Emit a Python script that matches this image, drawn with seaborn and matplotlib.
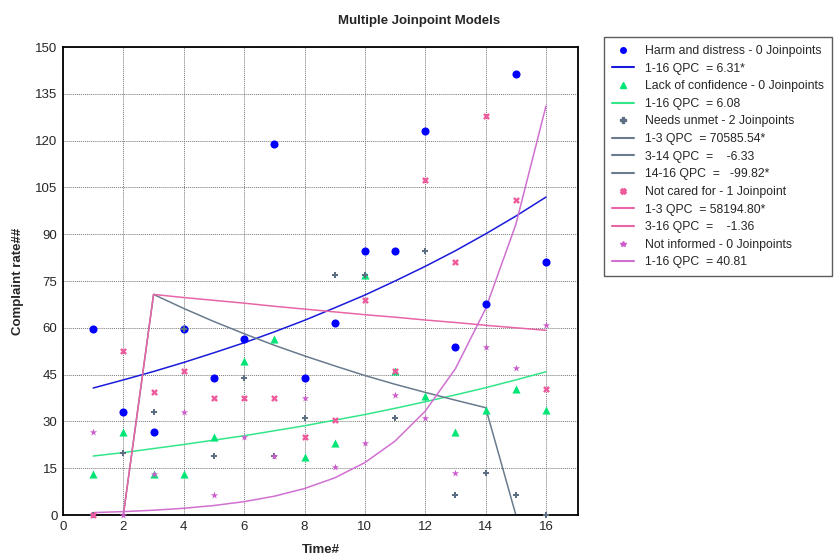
"""Multiple Joinpoint Models - complaint rates over time with joinpoint fits."""

import matplotlib

matplotlib.use("Agg")

import matplotlib.pyplot as plt  # noqa: E402
import numpy as np  # noqa: E402
import pandas as pd  # noqa: E402
import seaborn as sns  # noqa: E402
from matplotlib.lines import Line2D  # noqa: E402

# --- Data -------------------------------------------------------------------

time = list(range(1, 17))

harm = [59.5, 33, 26.5, 59.5, 44, 56.5, 119, 44, 61.5, 84.5, 84.5, 123, 54, 67.5, 141.5, 81]
harm_fit = [40.7, 43.3, 46.0, 48.9, 52.0, 55.2, 58.7, 62.4, 66.4, 70.5, 75.0, 79.7, 84.7,
            90.1, 95.8, 101.9]

confidence = [13, 26.5, 13, 13, 25, 49.5, 56.5, 18.5, 23, 77, 46, 38, 26.5, 33.5, 40.5, 33.5]
confidence_fit = [18.9, 20.0, 21.3, 22.6, 24.0, 25.4, 27.0, 28.6, 30.4, 32.2, 34.2, 36.3,
                  38.5, 40.8, 43.3, 45.9]

needs = [0, 20, 33, 59.5, 19, 44, 19, 31, 77, 77, 31, 84.5, 6.5, 13.5, 6.5, 0]
needs_fit = [0.0, 0.1, 70.7, 66.2, 62.0, 58.1, 54.4, 51.0, 47.8, 44.7, 41.9, 39.3, 36.8,
             34.4, 0.06, 0.0]

cared = [0, 52.5, 39.5, 46, 37.5, 37.5, 37.5, 25, 30.5, 69, 46, 107.5, 81, 128, 101, 40.5]
cared_fit = [0.0, 0.1, 70.7, 69.7, 68.8, 67.9, 66.9, 66.0, 65.1, 64.2, 63.4, 62.5, 61.7,
             60.8, 60.0, 59.2]

informed = [26.5, 0, 13, 33, 6.5, 25, 19, 37.5, 15.5, 23, 38.5, 31, 13.5, 54, 47, 61]
informed_fit = [0.77, 1.09, 1.53, 2.16, 3.04, 4.28, 6.02, 8.48, 11.9, 16.8, 23.7, 33.3,
                46.9, 66.1, 93.1, 131.1]

# (label, points, fit, point colour, line colour, marker, marker size, fit labels)
series = [
    ("Harm and distress - 0 Joinpoints", harm, harm_fit, "#0000ff", "#1a1adb", "o", 34,
     ["1-16 QPC  = 6.31*"]),
    ("Lack of confidence - 0 Joinpoints", confidence, confidence_fit, "#00e676", "#33e68a",
     "^", 34, ["1-16 QPC  = 6.08"]),
    ("Needs unmet - 2 Joinpoints", needs, needs_fit, "#5c6f82", "#6a7b8e", "P", 18,
     ["1-3 QPC  = 70585.54*", "3-14 QPC  =    -6.33", "14-16 QPC  =   -99.82*"]),
    ("Not cared for - 1 Joinpoint", cared, cared_fit, "#ee5a9c", "#e865a8", "X", 24,
     ["1-3 QPC  = 58194.80*", "3-16 QPC  =    -1.36"]),
    ("Not informed - 0 Joinpoints", informed, informed_fit, "#cc5ccc", "#d070d0", "*", 30,
     ["1-16 QPC  = 40.81"]),
]

# --- Plot ---------------------------------------------------------------------

sns.set_style("white")
plt.rcParams["font.family"] = ["Liberation Sans", "DejaVu Sans"]

fig = plt.figure(figsize=(8.39, 5.58), dpi=100)
ax = fig.add_axes([63 / 839, 43 / 558, 515 / 839, 468 / 558])

handles = []
labels = []
for name, pts, fit, pcol, lcol, marker, size, fit_labels in series:
    df = pd.DataFrame({"time": time, "rate": pts, "fit": fit})
    sns.lineplot(data=df, x="time", y="fit", color=lcol, linewidth=1.1, ax=ax,
                 clip_on=True, zorder=2)
    sns.scatterplot(data=df, x="time", y="rate", color=pcol, marker=marker, s=size,
                    linewidth=0, ax=ax, zorder=3, clip_on=False)
    handles.append(Line2D([], [], linestyle="none", marker=marker, color=pcol,
                          markersize=4))
    labels.append(name)
    for fl in fit_labels:
        handles.append(Line2D([], [], color=lcol, linewidth=1.5))
        labels.append(fl)

ax.set_xlim(0, 17.06)
ax.set_ylim(0, 150)
ax.set_xticks(np.arange(0, 17, 2))
ax.set_yticks(np.arange(0, 151, 15))
ax.tick_params(length=0, labelsize=9.5, pad=4)
ax.grid(True, linestyle=(0, (1, 1)), color="#777777", linewidth=0.7)
for spine in ax.spines.values():
    spine.set_color("black")
    spine.set_linewidth(1.3)

ax.set_xlabel("Time#", fontsize=9.5, fontweight="bold", labelpad=8)
ax.set_ylabel("Complaint rate##", fontsize=9.5, fontweight="bold", labelpad=8)
fig.suptitle("Multiple Joinpoint Models", x=0.5, y=1 - 21 / 558, fontsize=9.5,
             fontweight="bold", va="center")

leg = fig.legend(handles, labels, loc="upper left",
                 bbox_to_anchor=(604 / 839, 1 - 37 / 558),
                 fontsize=8.8, frameon=True, fancybox=False, handlelength=1.8,
                 handletextpad=0.9, labelspacing=0.46, borderpad=0.65,
                 borderaxespad=0)
leg.get_frame().set_edgecolor("#333333")
leg.get_frame().set_linewidth(1.0)

fig.savefig("out.png", dpi=100)
plt.close(fig)
